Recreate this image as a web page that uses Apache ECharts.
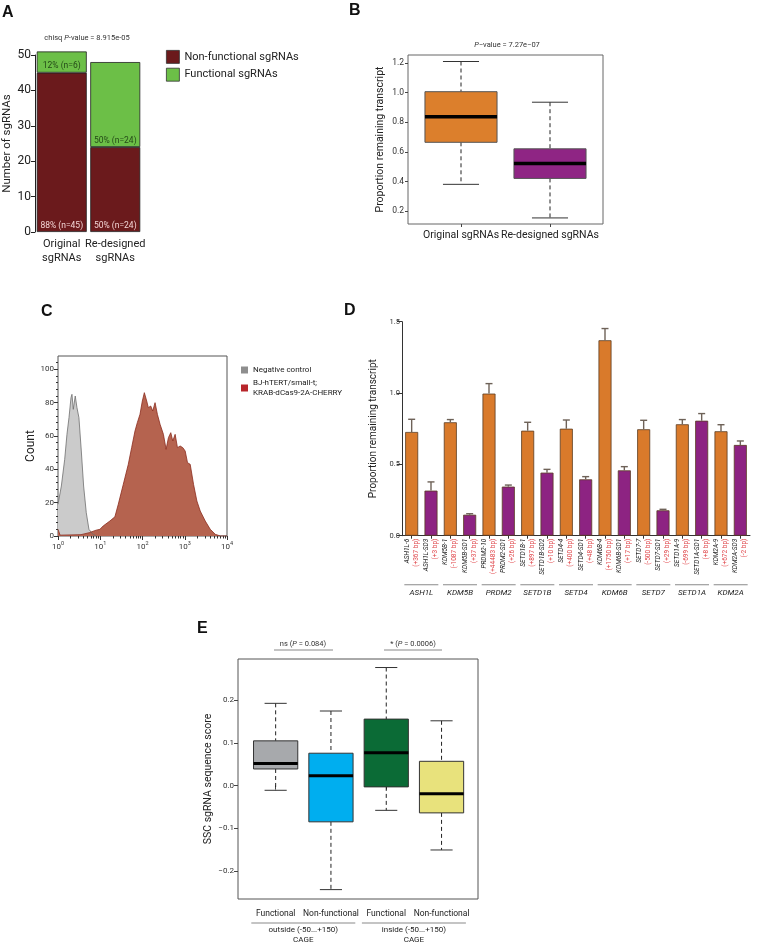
<!DOCTYPE html>
<html><head><meta charset="utf-8">
<script src="https://cdn.jsdelivr.net/npm/echarts@6/dist/echarts.min.js"></script>
<style>html,body{margin:0;padding:0;background:#fff}#c{width:761px;height:945px}</style>
</head><body><div id="c"></div>
<script>
// ---------- Panel A ----------
const aCategories = ['Original\nsgRNAs', 'Re-designed\nsgRNAs'];
const aNonFunctional = [45, 24];
const aFunctional = [6, 24];
const aNonLabels = ['88% (n=45)', '50% (n=24)'];
const aFunLabels = ['12% (n=6)', '50% (n=24)'];

// ---------- Panel B ----------
const bCategories = ['Original sgRNAs', 'Re-designed sgRNAs'];
// [lower whisker, Q1, median, Q3, upper whisker]
const bOriginal = [0.38, 0.664, 0.837, 1.006, 1.21];
const bRedesigned = [0.153, 0.42, 0.52, 0.62, 0.935];
const bTicks = [0.2, 0.4, 0.6, 0.8, 1.0, 1.2];

// ---------- Panel C ----------
const cNegX = [1, 1.2, 1.44, 1.63, 1.82, 2.03, 2.14, 2.3, 2.56, 2.81, 3.13, 3.56, 4.04, 4.67, 5.4, 6.71, 8.05];
const cNegY = [19, 30, 46, 61, 71, 83, 85, 76, 84, 77, 71, 51, 30, 14, 4, 1, 0];
const cRedX = [1, 1.12, 3.5, 5.5, 8, 9.8, 11.7, 16.9, 22.2, 26.7, 35.1, 46.1, 55.3, 66.4, 75.4, 87.2, 99.1, 110.6, 125.7, 137.6, 156.4, 174.5, 198.3, 225.2, 260.6, 312.7, 361.6, 410.9, 466.9, 521, 592, 673, 778, 901, 1023, 1162, 1345, 1615, 1937, 2324, 3055, 4018, 5284, 6950, 10000];
const cRedY = [4, 0.5, 0.8, 2, 3.5, 4, 6, 9, 11.5, 19, 31, 43, 53, 63, 68, 73, 81, 86, 81, 77, 78, 75, 80, 73, 67, 61, 52, 59, 62, 57, 61, 53, 54, 53, 51, 44, 43, 31, 21, 15, 9, 4, 1, 0, 0];
const cYTicks = [0, 20, 40, 60, 80, 100];
const cYMinor = [4, 8, 12, 16, 24, 28, 32, 36, 44, 48, 52, 56, 64, 68, 72, 76, 84, 88, 92, 96, 104];
const cXMinor = [2, 3, 4, 5, 6, 7, 8, 9, 20, 30, 40, 50, 60, 70, 80, 90, 200, 300, 400, 500, 600, 700, 800, 900, 2000, 3000, 4000, 5000, 6000, 7000, 8000, 9000];

// ---------- Panel D ----------
const dNames = ['ASH1L-6','ASH1L-SD3','KDM5B-1','KDM5B-SD1','PRDM2-10','PRDM2-SD1','SETD1B-1','SETD1B-SD2','SETD4-4','SETD4-SD1','KDM6B-4','KDM6B-SD1','SETD7-7','SETD7-SD1','SETD1A-9','SETD1A-SD1','KDM2A-9','KDM2A-SD3'];
const dOffsets = ['(+367 bp)','(+3 bp)','(-1087 bp)','(+37 bp)','(+44483 bp)','(+26 bp)','(+897 bp)','(+10 bp)','(+400 bp)','(+48 bp)','(+1750 bp)','(+17 bp)','(-500 bp)','(+29 bp)','(-699 bp)','(+8 bp)','(+672 bp)','(-2 bp)'];
const dGenes = ['ASH1L','KDM5B','PRDM2','SETD1B','SETD4','KDM6B','SETD7','SETD1A','KDM2A'];
const dValues = [0.727, 0.316, 0.795, 0.147, 0.996, 0.344, 0.736, 0.442, 0.75, 0.395, 1.37, 0.458, 0.746, 0.178, 0.781, 0.806, 0.732, 0.636];
const dErrTop = [0.816, 0.377, 0.814, 0.154, 1.066, 0.355, 0.795, 0.465, 0.811, 0.414, 1.452, 0.484, 0.809, 0.185, 0.814, 0.856, 0.778, 0.664];
const dTypes = ['O','R','O','R','O','R','O','R','O','R','O','R','O','R','O','R','O','R'];

// ---------- Panel E ----------
const eCategories = ['Functional', 'Non-functional', 'Functional', 'Non-functional'];
const eGroups = ['outside (-50...+150)', 'inside (-50...+150)'];
const eBoxes = [
  [-0.011, 0.039, 0.052, 0.105, 0.193],
  [-0.244, -0.085, 0.023, 0.076, 0.175],
  [-0.058, -0.003, 0.077, 0.156, 0.277],
  [-0.151, -0.064, -0.019, 0.057, 0.152]
];
const eTicks = [-0.2, -0.1, 0.0, 0.1, 0.2];

const FONT = 'Roboto';
const ORANGE = '#dc7f2c', PURPLE = '#8f2584';

function makeBoxRender(colors, ratio, medW, border) {
  return function (params, api) {
    const i = api.value(0);
    const v = [1, 2, 3, 4, 5].map(k => api.value(k));
    const w = api.size([1, 0])[0] * ratio;
    const cx = api.coord([i, v[2]])[0];
    const y = v.map(val => api.coord([i, val])[1]);
    const dash = { stroke: '#222', lineWidth: 1, lineDash: [4, 3] };
    const cap = { stroke: '#333', lineWidth: 1 };
    return { type: 'group', children: [
      { type: 'line', shape: { x1: cx, y1: y[4], x2: cx, y2: y[3] }, style: dash },
      { type: 'line', shape: { x1: cx, y1: y[1], x2: cx, y2: y[0] }, style: dash },
      { type: 'line', shape: { x1: cx - w / 4, y1: y[4], x2: cx + w / 4, y2: y[4] }, style: cap },
      { type: 'line', shape: { x1: cx - w / 4, y1: y[0], x2: cx + w / 4, y2: y[0] }, style: cap },
      { type: 'rect', shape: { x: cx - w / 2, y: y[3], width: w, height: y[1] - y[3] }, style: { fill: colors[params.dataIndex], stroke: border, lineWidth: 1 } },
      { type: 'line', shape: { x1: cx - w / 2, y1: y[2], x2: cx + w / 2, y2: y[2] }, style: { stroke: '#000', lineWidth: medW } }
    ] };
  };
}
function errRender(params, api) {
  const i = api.value(0);
  const p0 = api.coord([i, api.value(1)]);
  const p1 = api.coord([i, api.value(2)]);
  const st = { stroke: '#6e6258', lineWidth: 1.4 };
  return { type: 'group', children: [
    { type: 'line', shape: { x1: p0[0], y1: p0[1], x2: p1[0], y2: p1[1] }, style: st },
    { type: 'line', shape: { x1: p1[0] - 3.5, y1: p1[1], x2: p1[0] + 3.5, y2: p1[1] }, style: st }
  ] };
}
const fmtMinus = v => (v < 0 ? '\u2212' + Math.abs(v).toFixed(1) : v.toFixed(1));

const chart = echarts.init(document.getElementById('c'), null, { renderer: 'canvas' });
const option = {
  animation: false,
  backgroundColor: '#fff',
  textStyle: { fontFamily: FONT },
  grid: [
    { left: 34, top: 55, width: 108, height: 177 },                         // 0 A
    { left: 408, top: 55, width: 195, height: 169, show: true, borderColor: '#666', borderWidth: 1, backgroundColor: 'transparent' }, // 1 B frame
    { left: 416.5, top: 55, width: 178, height: 169 },                      // 2 B plot
    { left: 58, top: 356, width: 169, height: 180, show: true, borderColor: '#555', borderWidth: 1, backgroundColor: 'transparent' }, // 3 C
    { left: 402, top: 321.7, width: 348, height: 214 },                     // 4 D
    { left: 238, top: 659, width: 240, height: 240, show: true, borderColor: '#555', borderWidth: 1, backgroundColor: 'transparent' }, // 5 E frame
    { left: 248, top: 659, width: 221.2, height: 240 }                      // 6 E plot
  ],
  legend: [
    { data: ['Non-functional sgRNAs', 'Functional sgRNAs'], left: 161, top: 45, orient: 'vertical', icon: 'rect',
      itemWidth: 13, itemHeight: 13, itemGap: 4, itemStyle: { borderColor: '#333', borderWidth: 0.8 },
      textStyle: { fontSize: 11, color: '#222', fontFamily: FONT } },
    { data: ['Negative control', 'BJ-hTERT/small-t;\nKRAB-dCas9-2A-CHERRY'], left: 236, top: 360, orient: 'vertical', icon: 'rect',
      itemWidth: 7, itemHeight: 7, itemGap: 3, textStyle: { fontSize: 8, color: '#222', fontFamily: FONT, lineHeight: 10 } }
  ],
  xAxis: [
    { gridIndex: 0, type: 'category', data: aCategories, axisLine: { show: false }, axisTick: { show: false },
      axisLabel: { interval: 0, fontSize: 11, color: '#222', lineHeight: 14, margin: 5 } },
    { gridIndex: 1, type: 'value', show: false },
    { gridIndex: 2, type: 'category', data: bCategories, axisLine: { show: false },
      axisTick: { show: true, alignWithLabel: true, length: 3, lineStyle: { color: '#444' } },
      axisLabel: { interval: 0, fontSize: 10.5, color: '#222', margin: 6 } },
    { gridIndex: 3, type: 'log', logBase: 10, min: 1, max: 10000, position: 'bottom', axisLine: { show: false },
      axisTick: { show: true, length: 4, lineStyle: { color: '#333' } }, splitLine: { show: false },
      axisLabel: { fontSize: 8, color: '#333', margin: 5,
        formatter: v => '{b|10}{s|' + Math.round(Math.log10(v)) + '}',
        rich: { b: { fontSize: 8, color: '#333' }, s: { fontSize: 5.5, color: '#333', verticalAlign: 'top', padding: [0, 0, 5, 0] } } } },
    { gridIndex: 3, type: 'log', logBase: 10, min: 1, max: 10000, position: 'bottom', axisLine: { show: false },
      axisTick: { show: true, length: 2.5, customValues: cXMinor, lineStyle: { color: '#333' } },
      axisLabel: { show: false }, splitLine: { show: false } },
    { gridIndex: 4, type: 'category', data: dNames, axisLine: { show: true, lineStyle: { color: '#333' } },
      axisTick: { show: true, alignWithLabel: true, length: 3, lineStyle: { color: '#333' } },
      axisLabel: { interval: 0, rotate: 90, margin: 3,
        formatter: (v, i) => '{n|' + v + '}\n{o|' + dOffsets[i] + '}',
        rich: { n: { fontSize: 6.5, fontStyle: 'italic', color: '#222', lineHeight: 9 }, o: { fontSize: 6.5, color: '#e0464a', lineHeight: 9 } } } },
    { gridIndex: 4, type: 'category', data: dGenes, position: 'bottom', offset: 45, axisLine: { show: false }, axisTick: { show: false },
      axisLabel: { interval: 0, margin: 2, formatter: v => '{l| }\n{g|' + v + '}',
        rich: { l: { width: 34, height: 1, lineHeight: 4, fontSize: 1, backgroundColor: '#8a8a8a' },
                g: { fontSize: 8, fontStyle: 'italic', color: '#222', lineHeight: 12 } } } },
    { gridIndex: 5, type: 'value', show: false },
    { gridIndex: 6, type: 'category', data: eCategories, axisLine: { show: false },
      axisTick: { show: true, alignWithLabel: true, length: 4, lineStyle: { color: '#444' } },
      axisLabel: { interval: 0, fontSize: 8.5, color: '#222', margin: 10 } },
    { gridIndex: 6, type: 'category', data: eGroups, position: 'bottom', offset: 20, axisLine: { show: false }, axisTick: { show: false },
      axisLabel: { interval: 0, margin: 2, formatter: v => '{l| }\n{g|' + v + '}\n{g|CAGE}',
        rich: { l: { width: 104, height: 1, lineHeight: 4, fontSize: 1, backgroundColor: '#8a8a8a' },
                g: { fontSize: 8, color: '#222', lineHeight: 10 } } } }
  ],
  yAxis: [
    { gridIndex: 0, type: 'value', min: 0, max: 50, interval: 10,
      axisLine: { show: true, lineStyle: { color: '#222' } }, axisTick: { show: true, length: 4, lineStyle: { color: '#222' } },
      splitLine: { show: false }, axisLabel: { fontSize: 12, color: '#222', margin: 4 },
      name: 'Number of sgRNAs', nameLocation: 'middle', nameGap: 22, nameTextStyle: { fontSize: 11.5, color: '#222' } },
    { gridIndex: 1, type: 'value', show: false },
    { gridIndex: 2, type: 'value', min: 0.112, max: 1.254, offset: 8.5,
      axisLine: { show: false }, splitLine: { show: false },
      axisTick: { show: true, length: 3, customValues: bTicks, lineStyle: { color: '#444' } },
      axisLabel: { customValues: bTicks, formatter: v => v.toFixed(1), fontSize: 8.5, color: '#333', margin: 4 },
      name: 'Proportion remaining transcript', nameLocation: 'middle', nameGap: 22, nameTextStyle: { fontSize: 10.5, color: '#222' } },
    { gridIndex: 3, type: 'value', min: 0, max: 108, axisLine: { show: false }, splitLine: { show: false },
      axisTick: { show: true, length: 4, customValues: cYTicks, lineStyle: { color: '#333' } },
      axisLabel: { customValues: cYTicks, fontSize: 8, color: '#333', margin: 4 },
      name: 'Count', nameLocation: 'middle', nameGap: 19, nameTextStyle: { fontSize: 12, color: '#222' } },
    { gridIndex: 3, type: 'value', min: 0, max: 108, position: 'left', axisLine: { show: false }, splitLine: { show: false },
      axisTick: { show: true, length: 2, customValues: cYMinor, lineStyle: { color: '#333' } }, axisLabel: { show: false } },
    { gridIndex: 4, type: 'value', min: 0, max: 1.5, interval: 0.5,
      axisLine: { show: true, lineStyle: { color: '#333' } }, axisTick: { show: true, length: 5, lineStyle: { color: '#333' } },
      splitLine: { show: false }, axisLabel: { fontSize: 7.5, color: '#333', margin: 2, formatter: v => v.toFixed(1) },
      name: 'Proportion remaining transcript', nameLocation: 'middle', nameGap: 24, nameTextStyle: { fontSize: 10, color: '#222' } },
    { gridIndex: 5, type: 'value', show: false },
    { gridIndex: 6, type: 'value', min: -0.266, max: 0.297, offset: 10,
      axisLine: { show: false }, splitLine: { show: false },
      axisTick: { show: true, length: 4, customValues: eTicks, lineStyle: { color: '#444' } },
      axisLabel: { customValues: eTicks, formatter: fmtMinus, fontSize: 8, color: '#333', margin: 4 },
      name: 'SSC sgRNA sequence score', nameLocation: 'middle', nameGap: 24, nameTextStyle: { fontSize: 10.5, color: '#222' } }
  ],
  series: [
    { name: 'Non-functional sgRNAs', type: 'bar', stack: 'a', xAxisIndex: 0, yAxisIndex: 0, data: aNonFunctional, barWidth: 50, clip: false,
      itemStyle: { color: '#6b1a1c', borderColor: '#222', borderWidth: 0.8 },
      label: { show: true, position: 'insideBottom', distance: 2, formatter: p => aNonLabels[p.dataIndex], fontSize: 8.5, color: '#f2d4d4' } },
    { name: 'Functional sgRNAs', type: 'bar', stack: 'a', xAxisIndex: 0, yAxisIndex: 0, data: aFunctional, barWidth: 50, clip: false,
      itemStyle: { color: '#6cbf47', borderColor: '#222', borderWidth: 0.8 },
      label: { show: true, position: 'insideBottom', distance: 2, formatter: p => aFunLabels[p.dataIndex], fontSize: 8.5, color: '#244a18' } },
    { type: 'custom', xAxisIndex: 2, yAxisIndex: 2, renderItem: makeBoxRender([ORANGE, PURPLE], 0.81, 3.5, '#555'),
      data: [bOriginal, bRedesigned].map((b, i) => [i].concat(b)), encode: { x: 0, y: [1, 2, 3, 4, 5] } },
    { name: 'Negative control', type: 'line', xAxisIndex: 3, yAxisIndex: 3, data: cNegX.map((x, i) => [x, cNegY[i]]),
      showSymbol: false, symbol: 'none', lineStyle: { color: '#6f6f6f', width: 0.8 }, areaStyle: { color: '#cbcbcb', opacity: 1 },
      itemStyle: { color: '#8e8e8e' } },
    { name: 'BJ-hTERT/small-t;\nKRAB-dCas9-2A-CHERRY', type: 'line', xAxisIndex: 3, yAxisIndex: 3, data: cRedX.map((x, i) => [x, cRedY[i]]),
      showSymbol: false, symbol: 'none', lineStyle: { color: '#8c2c1e', width: 0.8 }, areaStyle: { color: '#b5634f', opacity: 1 },
      itemStyle: { color: '#b8262b' } },
    { type: 'bar', xAxisIndex: 5, yAxisIndex: 5, barWidth: 13,
      data: dValues.map((v, i) => ({ value: v, itemStyle: { color: dTypes[i] === 'O' ? '#d97a2b' : '#8d2382' } })),
      itemStyle: { borderColor: '#5b3c22', borderWidth: 0.8 } },
    { type: 'custom', xAxisIndex: 5, yAxisIndex: 5, renderItem: errRender, z: 3,
      data: dValues.map((v, i) => [i, v, dErrTop[i]]), encode: { x: 0, y: [1, 2] } },
    { type: 'custom', xAxisIndex: 8, yAxisIndex: 7, renderItem: makeBoxRender(['#a7a9ac', '#00aeef', '#0b6b36', '#e8e27c'], 0.8, 3, '#333'),
      data: eBoxes.map((b, i) => [i].concat(b)), encode: { x: 0, y: [1, 2, 3, 4, 5] } }
  ],
  graphic: [
    { type: 'text', left: 2, top: 5, style: { text: 'A', font: 'bold 16px Liberation Sans', fill: '#111' } },
    { type: 'text', left: 349, top: 3, style: { text: 'B', font: 'bold 16px Liberation Sans', fill: '#111' } },
    { type: 'text', left: 41, top: 304, style: { text: 'C', font: 'bold 16px Liberation Sans', fill: '#111' } },
    { type: 'text', left: 344, top: 303, style: { text: 'D', font: 'bold 16px Liberation Sans', fill: '#111' } },
    { type: 'text', left: 197, top: 621, style: { text: 'E', font: 'bold 16px Liberation Sans', fill: '#111' } },
    { type: 'text', x: 87, y: 38, style: { text: '{r|chisq }{i|P}{r|-value = 8.915e-05}', align: 'center', verticalAlign: 'middle',
      rich: { r: { fontSize: 7.5, fontFamily: FONT, fill: '#333' }, i: { fontSize: 7.5, fontFamily: FONT, fontStyle: 'italic', fill: '#333' } } } },
    { type: 'text', x: 507, y: 45, style: { text: '{i|P}{r|\u2212value = 7.27e\u221207}', align: 'center', verticalAlign: 'middle',
      rich: { r: { fontSize: 7.5, fontFamily: FONT, fill: '#333' }, i: { fontSize: 7.5, fontFamily: FONT, fontStyle: 'italic', fill: '#333' } } } },
    { type: 'text', x: 303, y: 644, style: { text: '{r|ns (}{i|P}{r| = 0.084)}', align: 'center', verticalAlign: 'middle',
      rich: { r: { fontSize: 7.5, fontFamily: FONT, fill: '#333' }, i: { fontSize: 7.5, fontFamily: FONT, fontStyle: 'italic', fill: '#333' } } } },
    { type: 'text', x: 413, y: 644, style: { text: '{r|* (}{i|P}{r| = 0.0006)}', align: 'center', verticalAlign: 'middle',
      rich: { r: { fontSize: 7.5, fontFamily: FONT, fill: '#333' }, i: { fontSize: 7.5, fontFamily: FONT, fontStyle: 'italic', fill: '#333' } } } },
    { type: 'line', shape: { x1: 274, y1: 650, x2: 333, y2: 650 }, style: { stroke: '#888', lineWidth: 1 } },
    { type: 'line', shape: { x1: 384, y1: 650, x2: 442, y2: 650 }, style: { stroke: '#888', lineWidth: 1 } }
  ]
};
chart.setOption(option);
</script>
</body></html>
